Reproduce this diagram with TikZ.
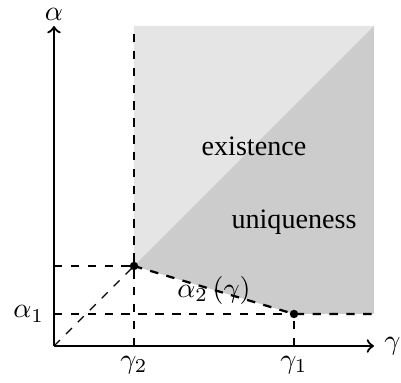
\documentclass[tikz,border=0pt]{standalone}
\usepackage{fontspec}
\setmainfont{Liberation Serif}
\begin{document}
\begin{tikzpicture}[dot/.style={circle, fill=black, inner sep=0pt, minimum size=3pt}]
    \useasboundingbox (-0.675, -0.4625) rectangle (4.3375, 4.325);
    \coordinate (O) at (0, 0);
    \coordinate (P2) at (1, 1);
    \coordinate (P1) at (3, 0.4);
    % regions
    \fill[gray!20] (1, 1) -- (1, 4) -- (4, 4) -- cycle;
    \fill[gray!40] (1, 1) -- (4, 4) -- (4, 0.4) -- (3, 0.4) -- cycle;
    % guide lines
    \draw[dashed] (1, 0) -- (1, 4);
    \draw[dashed] (0, 1) -- (P2);
    \draw[dashed] (0, 0.4) -- (P1);
    \draw[dashed] (3, 0) -- (P1);
    \draw[dashed] (O) -- (P2);
    \draw[thick, dashed] (P2) -- node {$\alpha_2\,(\gamma)$} (P1) -- (4, 0.4);
    \node[dot] (d2) at (P2) {};
    \node[dot] (d1) at (P1) {};
    % axes
    \draw[->, thick] (O) -- (4, 0) node[right] (xl) {$\gamma$};
    \draw[->, thick] (O) -- (0, 4) node[above, inner sep=1.5pt] (yl) {$\alpha$};
    \node[below] (g2) at (1, 0) {$\gamma_2$};
    \node[below] (g1) at (3, 0) {$\gamma_1$};
    \node[left] (a1) at (0, 0.4) {$\alpha_1$};
    \node (ex) at (2.5, 2.5) {existence};
    \node (un) at (3, 1.55) {uniqueness};
\end{tikzpicture}
\end{document}
